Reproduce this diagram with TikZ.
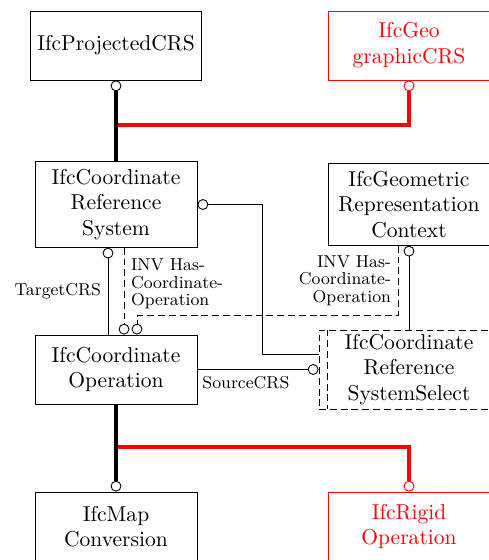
\documentclass[tikz,border=0pt]{standalone}
\usepackage{tikz}
\usetikzlibrary{positioning,arrows.meta}

\begin{document}
\begin{tikzpicture}[
    >={Circle[open,length=5.5pt,width=5.5pt,line width=0.45pt]},
    every node/.style={font=\fontsize{10.95}{13.1}\selectfont},
    entity/.style={draw, line width=0.45pt, align=center, inner sep=3.65pt, minimum width=2.895cm, minimum height=1.233cm},
    redentity/.style={entity, draw=red, text=red},
    invline/.style={dash pattern=on 3.5pt off 2pt},
    selbox/.style={entity, invline, inner ysep=2pt, minimum width=3.216cm},
    thinline/.style={line width=0.45pt},
    thickline/.style={line width=1.7pt},
    redline/.style={line width=1.7pt, red},
    lbl/.style={font=\fontsize{8.76}{8.9}\selectfont}
]
  \useasboundingbox (0,0) rectangle (8.72,-10.006);

  % entita
  \node[entity] (proj) at (2.073,-0.813) {IfcProjectedCRS};
  \node[redentity] (geo) at (7.308,-0.813) {IfcGeo\\graphicCRS};
  \node[entity] (crs) at (2.073,-3.654) {IfcCoordinate\\Reference\\System};
  \node[entity] (ctx) at (7.308,-3.654) {IfcGeometric\\Representation\\Context};
  \node[entity] (op) at (2.073,-6.602) {IfcCoordinate\\Operation};
  \node[selbox] (sel) at (7.308,-6.602) {IfcCoordinate\\Reference\\SystemSelect};
  \node[entity] (map) at (2.073,-9.408) {IfcMap\\Conversion};
  \node[redentity] (rigid) at (7.308,-9.408) {IfcRigid\\Operation};

  % linea interna del select
  \draw[thinline, invline] ([xshift=0.16cm]sel.north west) -- ([xshift=0.16cm]sel.south west);

  % punti di diramazione
  \coordinate (jtop) at (2.073,-2.234);
  \coordinate (jbot) at (2.073,-7.987);

  % sottotipi in alto
  \draw[redline,->] (jtop) -| (geo.south);
  \draw[thickline,->] (crs.north) -- (proj.south);

  % sottotipi in basso
  \draw[redline,->] (jbot) -| (rigid.north);
  \draw[thickline,->] (op.south) -- (map.north);

  % attributi
  \draw[thinline,->] ([xshift=-0.143cm]op.north) -- ([xshift=-0.143cm]crs.south)
    node[lbl, midway, left] {TargetCRS};
  \draw[thinline,->] (op.east) -- (sel.west)
    node[lbl, pos=0.4, below] {SourceCRS};
  \draw[thinline,->] ([yshift=0.268cm]sel.west) -| ([xshift=1.16cm]crs.east) -- (crs.east);
  \draw[thinline,->] (sel.north) -- (ctx.south);

  % attributi inversi
  \draw[thinline,invline,->] ([xshift=0.143cm]crs.south) -- ([xshift=0.143cm]op.north)
    node[lbl, pos=0.42, right, align=left] {INV Has-\\Coordinate-\\Operation};
  \draw[thinline,invline,->] ([xshift=-0.197cm]ctx.south) -- ++(0,-1.251)
    node[lbl, midway, left, align=right] {INV Has-\\Coordinate-\\Operation}
    -| ([xshift=0.375cm]op.north);

\end{tikzpicture}
\end{document}
